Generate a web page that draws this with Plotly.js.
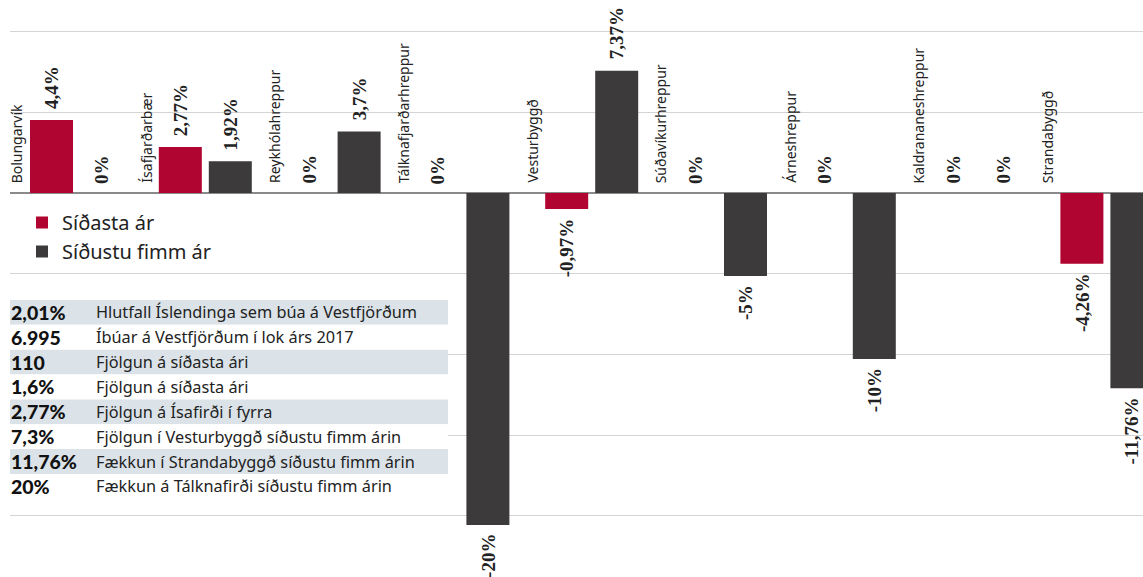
<!DOCTYPE html>
<html>
<head>
<meta charset="utf-8">
<script src="https://cdn.plot.ly/plotly-3.0.1.min.js"></script>
<style>html,body{margin:0;padding:0;background:#fff;}#chart{width:1143px;height:577px;}</style>
</head>
<body>
<div id="chart"></div>
<script>
// ---- data ----
const categories = ['Bolungarvík','Ísafjarðarbær','Reykhólahreppur','Tálknafjarðarhreppur','Vesturbyggð','Súðavíkurhreppur','Árneshreppur','Kaldrananeshreppur','Strandabyggð'];
const seriesNames = ['Síðasta ár','Síðustu fimm ár'];
const lastYear = [4.4, 2.77, 0, 0, -0.97, 0, 0, 0, -4.26];
const fiveYears = [0, 1.92, 3.7, -20, 7.37, -5, -10, 0, -11.76];
const statValues = ['2,01%','6.995','110','1,6%','2,77%','7,3%','11,76%','20%'];
const statLabels = ['Hlutfall Íslendinga sem búa á Vestfjörðum','Íbúar á Vestfjörðum í lok árs 2017','Fjölgun á síðasta ári','Fjölgun á síðasta ári','Fjölgun á Ísafirði í fyrra','Fjölgun í Vesturbyggð síðustu fimm árin','Fækkun í Strandabyggð síðustu fimm árin','Fækkun á Tálknafirði síðustu fimm árin'];

// ---- styles ----
const RED = '#b00530';
const GRAY = '#3c3a3b';
const W = 1143, H = 577;
const PLOT_L = 10;
const plotW = W - PLOT_L;
const px2paperX = p => (p - PLOT_L) / plotW;
const px2paperY = p => 1 - p / H;

const fmt = v => (String(v).replace('.', ',')) + '%';

const traces = [
  {type:'bar', name:seriesNames[0], x:categories, y:lastYear, marker:{color:RED}, hoverinfo:'none'},
  {type:'bar', name:seriesNames[1], x:categories, y:fiveYears, marker:{color:GRAY}, hoverinfo:'none'}
];

const annotations = [];
const offset = 25 / 128.8;
// category labels
categories.forEach((c, i) => {
  annotations.push({x: i - 0.463, y: 0, xref:'x', yref:'y', text: c, showarrow:false,
    textangle:-90, xanchor:'center', yanchor:'bottom', yshift:8,
    font:{family:'Noto Sans, sans-serif', size:14, color:'#222'}});
});
// value labels
[lastYear, fiveYears].forEach((arr, s) => {
  arr.forEach((v, i) => {
    const neg = v < 0;
    annotations.push({x: i + (s === 0 ? -offset : offset), y: v, xref:'x', yref:'y', text: fmt(v),
      showarrow:false, textangle:-90, xanchor:'center', yanchor: neg ? 'top' : 'bottom',
      yshift: neg ? -7 : (v === 0 ? 7 : 9),
      font:{family:'Liberation Serif, serif', size:19, color:'#222', weight:700}});
  });
});

// stats table
const shapes = [];
const rowTop = 300, rowH = 24.85;
statValues.forEach((val, i) => {
  const top = rowTop + i * rowH;
  shapes.push({type:'rect', xref:'paper', yref:'paper', layer:'above',
    x0: px2paperX(10), x1: px2paperX(448), y0: px2paperY(top + rowH), y1: px2paperY(top),
    fillcolor: i % 2 === 0 ? '#dbe3e9' : '#ffffff', line:{width:0}});
  annotations.push({xref:'paper', yref:'paper', x: px2paperX(9), y: px2paperY(top + rowH/2),
    xanchor:'left', yanchor:'middle', showarrow:false, text: val,
    font:{family:'Lato, sans-serif', size:19.5, color:'#111', weight:900}});
  annotations.push({xref:'paper', yref:'paper', x: px2paperX(94), y: px2paperY(top + rowH/2),
    xanchor:'left', yanchor:'middle', showarrow:false, text: statLabels[i],
    font:{family:'Noto Sans, sans-serif', size:16.3, color:'#222'}});
});

const zeroPx = 193, pxPerUnit = 16.6;
const layout = {
  width: W, height: H,
  margin:{l:PLOT_L, r:0, t:0, b:0, pad:0},
  paper_bgcolor:'#fff', plot_bgcolor:'#fff',
  barmode:'group', bargap:0.2236, bargroupgap:0.14,
  showlegend:true,
  legend:{x: px2paperX(22), y: px2paperY(203), xanchor:'left', yanchor:'top',
    font:{family:'Noto Sans, sans-serif', size:20, color:'#222'}, bgcolor:'rgba(0,0,0,0)', tracegroupgap:0},
  xaxis:{type:'category', range:[-0.5163, 8.2803], showticklabels:false, showgrid:false, zeroline:false, showline:false, ticks:'', fixedrange:true},
  yaxis:{range:[-(H - zeroPx)/pxPerUnit, zeroPx/pxPerUnit], tick0:0, dtick:4.86, showticklabels:false,
    showgrid:true, gridcolor:'#d4d4d4', gridwidth:1, zeroline:true, zerolinecolor:'#8a8a8a', zerolinewidth:2, ticks:'', fixedrange:true},
  annotations: annotations,
  shapes: shapes
};

Plotly.newPlot('chart', traces, layout, {staticPlot:true, displayModeBar:false});
</script>
</body>
</html>
